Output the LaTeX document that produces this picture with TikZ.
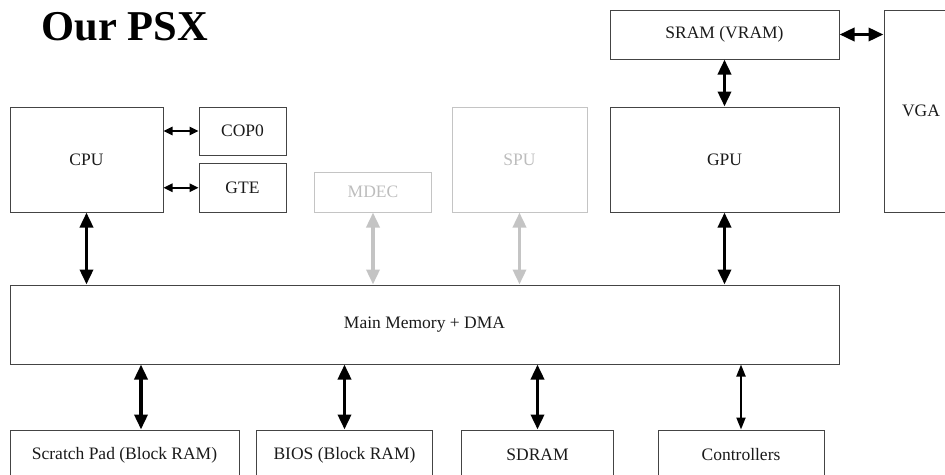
\documentclass[tikz,border=0pt]{standalone}
\usepackage{fontspec}
\setmainfont{Liberation Serif}
\usetikzlibrary{arrows.meta}
\definecolor{edge}{HTML}{444444}
\definecolor{txt}{HTML}{1A1A1A}
\definecolor{ghost}{HTML}{C4C4C4}
\definecolor{ghosttxt}{HTML}{BDBDBD}
\tikzset{
  box/.style={draw=edge, line width=1pt, inner sep=0pt, text=txt,
    font=\fontsize{17.5}{20}\selectfont},
  ghostbox/.style={box, draw=ghost, text=ghosttxt},
  bigarrow/.style={line width=3.5pt, {Triangle[length=15pt,width=13pt]}-{Triangle[length=15pt,width=13pt]}},
  midarrow/.style={line width=2pt, {Triangle[length=12pt,width=9pt]}-{Triangle[length=12pt,width=9pt]}},
  smallarrow/.style={line width=1.6pt, {Triangle[length=9pt,width=8.5pt]}-{Triangle[length=9pt,width=8.5pt]}},
  ghostarrow/.style={bigarrow, draw=ghost, fill=ghost, color=ghost},
}
\begin{document}
\begin{tikzpicture}[x=1pt,y=-1pt]
\useasboundingbox (0,0) rectangle (945,474);
\node[font=\fontsize{42.5}{48}\selectfont\bfseries, text=black, anchor=base] (title) at (125,40) {Our PSX};
% top row
\node[box, minimum width=153pt, minimum height=105pt] (cpu) at (86.5,159.5) {CPU};
\node[box, minimum width=87pt, minimum height=48pt] (cop) at (242.5,131) {COP0};
\node[box, minimum width=87pt, minimum height=48.5pt] (gte) at (242.5,187.75) {GTE};
\node[ghostbox, minimum width=117pt, minimum height=40pt] (mdec) at (373,192) {MDEC};
\node[ghostbox, minimum width=135pt, minimum height=105pt] (spu) at (519.5,159.5) {SPU};
\node[box, minimum width=229pt, minimum height=105pt] (gpu) at (724.5,159.5) {GPU};
\node[box, minimum width=229pt, minimum height=49pt] (sram) at (724.5,34.5) {SRAM (VRAM)};
\node[box, minimum width=74pt, minimum height=202pt] (vga) at (921,111) {VGA};
% main memory
\node[box, minimum width=829pt, minimum height=79pt] (mm) at (424.5,324.5) {Main Memory + DMA};
% bottom row
\node[box, minimum width=229pt, minimum height=50pt] (scratch) at (124.5,455) {Scratch Pad (Block RAM)};
\node[box, minimum width=176pt, minimum height=50pt] (bios) at (344.5,455) {BIOS (Block RAM)};
\node[box, minimum width=152pt, minimum height=50pt] (sdram) at (537.5,455) {SDRAM};
\node[box, minimum width=166pt, minimum height=50pt] (ctrl) at (741,455) {Controllers};
% connectors
\draw[smallarrow] (cpu.east |- cop.west) -- (cop.west);
\draw[smallarrow] (cpu.east |- gte.west) -- (gte.west);
\draw[bigarrow] (cpu.south) -- (cpu.south |- mm.north);
\draw[ghostarrow] (mdec.south) -- (mdec.south |- mm.north);
\draw[ghostarrow] (spu.south) -- (spu.south |- mm.north);
\draw[bigarrow] (gpu.south) -- (gpu.south |- mm.north);
\draw[bigarrow] (sram.south) -- (gpu.north);
\draw[bigarrow] (sram.east) -- (sram.east -| vga.west);
\coordinate (sp) at ([xshift=16.5pt]scratch.north);
\draw[bigarrow] (sp |- mm.south) -- (sp);
\draw[bigarrow] (bios.north |- mm.south) -- (bios.north);
\draw[bigarrow] (sdram.north |- mm.south) -- (sdram.north);
\draw[midarrow] (ctrl.north |- mm.south) -- (ctrl.north);
\end{tikzpicture}
\end{document}
